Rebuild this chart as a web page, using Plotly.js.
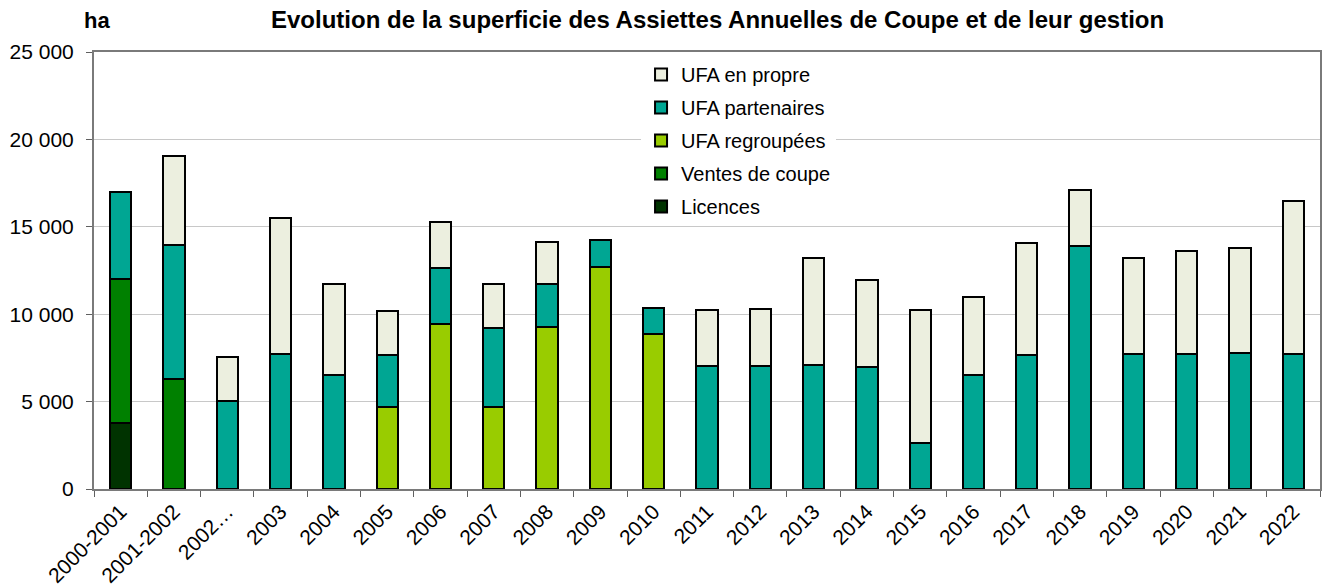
<!DOCTYPE html>
<html>
<head>
<meta charset="utf-8">
<script src="https://cdn.plot.ly/plotly-3.0.1.min.js"></script>
<style>html,body{margin:0;padding:0;background:#fff;}#chart{width:1322px;height:587px;}</style>
</head>
<body>
<div id="chart"></div>
<script>
const categories = ["2000-2001","2001-2002","2002…","2003","2004","2005","2006","2007","2008","2009","2010","2011","2012","2013","2014","2015","2016","2017","2018","2019","2020","2021","2022"];
const licences      = [3750,0,0,0,0,0,0,0,0,0,0,0,0,0,0,0,0,0,0,0,0,0,0];
const ventesCoupe   = [8250,6300,0,0,0,0,0,0,0,0,0,0,0,0,0,0,0,0,0,0,0,0,0];
const ufaRegroupees = [0,0,0,0,0,4700,9450,4700,9250,12700,8850,0,0,0,0,0,0,0,0,0,0,0,0];
const ufaPartenaires= [5000,7650,5050,7700,6550,2950,3200,4500,2450,1550,1500,7050,7050,7100,7000,2650,6500,7650,13900,7700,7750,7800,7750];
const ufaPropre     = [0,5100,2500,7800,5150,2550,2600,2550,2450,0,0,3200,3250,6100,4950,7600,4500,6400,3200,5500,5850,6000,8700];

const seriesNames = ["Licences","Ventes de coupe","UFA regroupées","UFA partenaires","UFA en propre"];
const seriesColors = ["#003300","#008000","#99CC00","#00A693","#ECEFDF"];
const seriesData = [licences, ventesCoupe, ufaRegroupees, ufaPartenaires, ufaPropre];

const traces = seriesData.map((vals, i) => ({
  type: "bar",
  name: seriesNames[i],
  x: categories,
  y: vals,
  legendgroup: "g" + i,
  legendrank: 1000 - i,
  marker: {color: seriesColors[i], line: {color: "#000000", width: 2}},
  hoverinfo: "x+y+name"
}));

const FONT = "Liberation Sans, Arial, sans-serif";

const layout = {
  width: 1322, height: 587,
  margin: {l: 94, r: 2, t: 52, b: 98},
  barmode: "stack",
  bargap: 0.6,
  separators: ", ",
  paper_bgcolor: "#ffffff",
  plot_bgcolor: "#ffffff",
  font: {family: FONT, color: "#000000", size: 20},
  title: {
    text: "<b>Evolution de la superficie des Assiettes Annuelles de Coupe et de leur gestion</b>",
    font: {size: 24, family: FONT},
    x: 0.5428, xanchor: "center", y: 0.966, yanchor: "middle"
  },
  xaxis: {
    type: "category",
    tickangle: -45,
    tickson: "boundaries",
    ticks: "outside", ticklen: 6, tickcolor: "#606060",
    showline: true, linecolor: "#7a7a7a", linewidth: 2, mirror: true,
    tickfont: {size: 21},
    showgrid: false
  },
  yaxis: {
    range: [0, 25000],
    dtick: 5000,
    tickformat: ",d",
    ticks: "outside", ticklen: 6, tickcolor: "#606060",
    ticklabelstandoff: 8,
    showline: true, linecolor: "#7a7a7a", linewidth: 2, mirror: true,
    gridcolor: "#C8C8C8", gridwidth: 1,
    tickfont: {size: 21},
    zeroline: false
  },
  legend: {
    x: 0.4462, y: 0.993, xanchor: "left", yanchor: "top",
    bgcolor: "#ffffff",
    traceorder: "grouped",
    tracegroupgap: 4,
    font: {size: 20}
  },
  annotations: [{
    text: "<b>ha</b>", xref: "paper", yref: "paper",
    x: -0.0098, y: 1.072, xanchor: "left", yanchor: "middle",
    showarrow: false, font: {size: 22}
  }]
};

Plotly.newPlot("chart", traces, layout, {displayModeBar: false, staticPlot: true});
</script>
</body>
</html>
